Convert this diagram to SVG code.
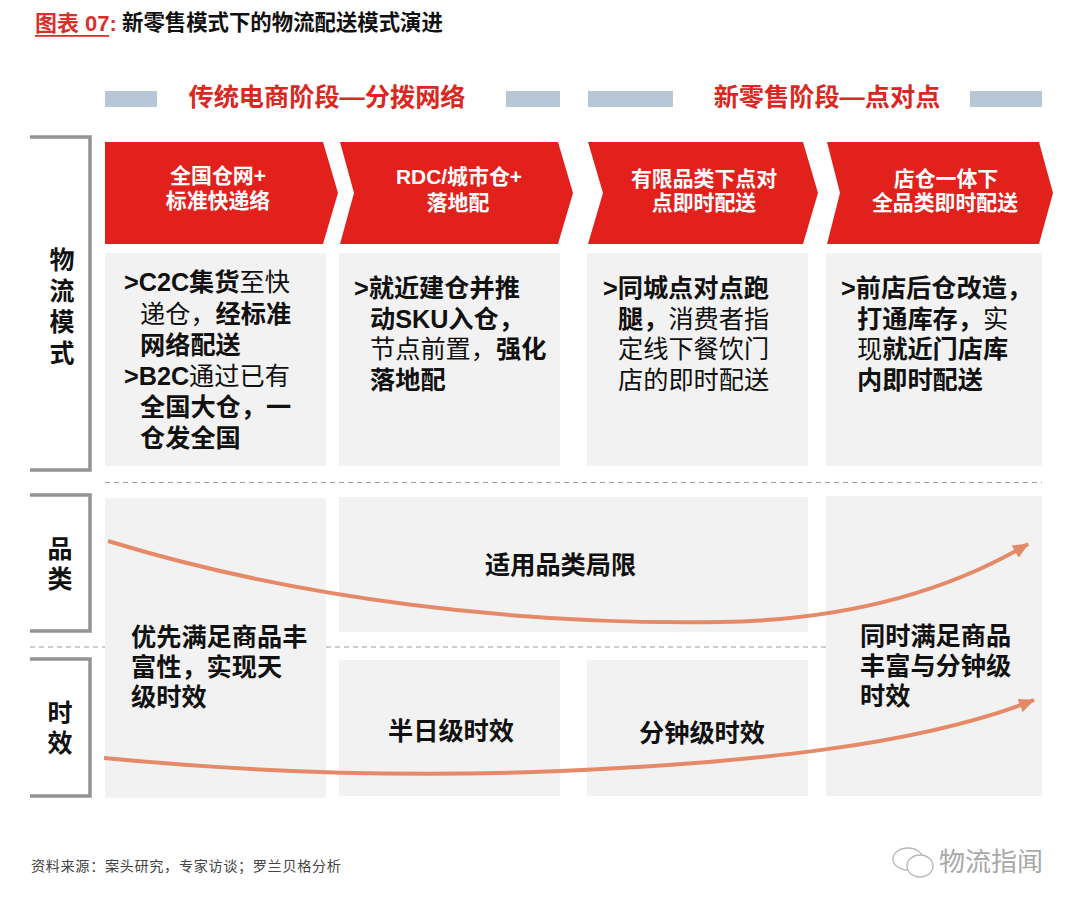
<svg xmlns="http://www.w3.org/2000/svg" width="1080" height="909" viewBox="0 0 1080 909">
<style>
text{font-family:"Liberation Sans","Noto Sans CJK SC",sans-serif;}
.panel{fill:#f3f2f2;}
.chev{fill:#e2211c;}
.bar{fill:#b8c7d8;}
.brk{fill:none;stroke:#939393;stroke-width:3.5;}
.dash{stroke:#9a9a9a;stroke-width:1;stroke-dasharray:5 4;fill:none;}
.head{fill:#d8281f;font-size:25.2px;font-weight:700;text-anchor:middle;}
.cw{fill:#fff;font-size:20.9px;font-weight:700;text-anchor:middle;}
.b{fill:#111;font-size:25.2px;}
.bb{font-weight:700;}
.lab{fill:#111;font-size:25px;font-weight:700;text-anchor:middle;}
.t{fill:#111;font-size:25.2px;font-weight:700;}
.curve{fill:none;stroke:#e58a68;stroke-width:4;}
</style>
<defs><marker id="ah" markerUnits="userSpaceOnUse" markerWidth="18" markerHeight="16" refX="15" refY="7" orient="auto"><path d="M0 0L16 7L0 14Z" fill="#e58a68"/></marker></defs>
<g id="title">
<text x="35" y="31" font-size="22" font-weight="700" fill="#d8312c">图表 07:</text>
<rect x="35" y="35" width="74" height="1.800" fill="#d8312c"/>
<text x="122" y="30" font-size="21.400" font-weight="700" fill="#111">新零售模式下的物流配送模式演进</text>
</g>
<g id="stage-1">
<rect class="bar" x="105" y="91" width="52" height="16"/><rect class="bar" x="506" y="91" width="54" height="16"/>
<text class="head" x="327" y="106">传统电商阶段—分拨网络</text>
</g>
<g id="stage-2">
<rect class="bar" x="588" y="91" width="85" height="16"/><rect class="bar" x="970" y="91" width="72" height="16"/>
<text class="head" x="827" y="106">新零售阶段—点对点</text>
</g>
<g id="axis-mode">
<path class="brk" d="M30 137H90V470H30"/>
<text class="lab" x="62" y="269">物</text><text class="lab" x="62" y="300">流</text><text class="lab" x="62" y="331">模</text><text class="lab" x="62" y="362">式</text>
</g>
<g id="axis-category">
<path class="brk" d="M30 495H90V631H30"/>
<text class="lab" x="60" y="558">品</text><text class="lab" x="60" y="588">类</text>
</g>
<g id="axis-time">
<path class="brk" d="M30 659H90V796H30"/>
<text class="lab" x="60" y="722">时</text><text class="lab" x="60" y="752">效</text>
</g>
<g id="separators">
<path class="dash" d="M105 482.500H1042"/>
<path class="dash" d="M30 647H105M326 647H826"/>
</g>
<g id="mode-1">
<polygon class="chev" points="105,142 323,142 338,193 323,244 105,244"/>
<text class="cw" x="218" y="183">全国仓网+</text><text class="cw" x="218" y="208">标准快递络</text>
<rect class="panel" x="105" y="253" width="221" height="213"/>
<text class="b" x="124" y="291"><tspan class="bb">&gt;C2C集货</tspan>至快</text>
<text class="b" x="140" y="323">递仓，<tspan class="bb">经标准</tspan></text>
<text class="b" x="140" y="354" font-weight="700">网络配送</text>
<text class="b" x="124" y="385"><tspan class="bb">&gt;B2C</tspan>通过已有</text>
<text class="b" x="140" y="416" font-weight="700">全国大仓，一</text>
<text class="b" x="140" y="447" font-weight="700">仓发全国</text>
</g>
<g id="mode-2">
<polygon class="chev" points="340,142 558,142 573,193 558,244 340,244 354,193"/>
<text class="cw" x="459" y="184">RDC/城市仓+</text><text class="cw" x="458" y="210">落地配</text>
<rect class="panel" x="339" y="253" width="221" height="213"/>
<text class="b" x="354" y="297"><tspan class="bb">&gt;就近建仓并推</tspan></text>
<text class="b" x="370" y="328" font-weight="700">动SKU入仓，</text>
<text class="b" x="370" y="358">节点前置，<tspan class="bb">强化</tspan></text>
<text class="b" x="370" y="389" font-weight="700">落地配</text>
</g>
<g id="mode-3">
<polygon class="chev" points="588,142 803,142 818,193 803,244 588,244 603,193"/>
<text class="cw" x="704" y="186">有限品类下点对</text><text class="cw" x="704" y="210">点即时配送</text>
<rect class="panel" x="587" y="253" width="221" height="213"/>
<text class="b" x="603" y="297"><tspan class="bb">&gt;同城点对点跑</tspan></text>
<text class="b" x="618" y="328"><tspan class="bb">腿，</tspan>消费者指</text>
<text class="b" x="618" y="358">定线下餐饮门</text>
<text class="b" x="618" y="389">店的即时配送</text>
</g>
<g id="mode-4">
<polygon class="chev" points="827,142 1039,142 1053,193 1039,244 827,244 840,193"/>
<text class="cw" x="946" y="186">店仓一体下</text><text class="cw" x="945" y="210">全品类即时配送</text>
<rect class="panel" x="826" y="253" width="216" height="213"/>
<text class="b" x="841" y="297"><tspan class="bb">&gt;前店后仓改造，</tspan></text>
<text class="b" x="857" y="328"><tspan class="bb">打通库存，</tspan>实</text>
<text class="b" x="857" y="358">现<tspan class="bb">就近门店库</tspan></text>
<text class="b" x="857" y="389" font-weight="700">内即时配送</text>
</g>
<g id="cell-left">
<rect class="panel" x="105" y="498" width="221" height="300"/>
<text class="t" x="131" y="646">优先满足商品丰</text><text class="t" x="131" y="676">富性，实现天</text><text class="t" x="131" y="706">级时效</text>
</g>
<g id="cell-category">
<rect class="panel" x="339" y="497" width="469" height="135"/>
<text class="t" x="485" y="574">适用品类局限</text>
</g>
<g id="cell-halfday">
<rect class="panel" x="339" y="660" width="221" height="136"/>
<text class="t" x="388" y="740">半日级时效</text>
</g>
<g id="cell-minute">
<rect class="panel" x="587" y="660" width="221" height="136"/>
<text class="t" x="639" y="742">分钟级时效</text>
</g>
<g id="cell-right">
<rect class="panel" x="826" y="496" width="216" height="300"/>
<text class="t" x="860" y="645">同时满足商品</text><text class="t" x="860" y="675">丰富与分钟级</text><text class="t" x="860" y="705">时效</text>
</g>
<g id="connectors">
<path class="curve" marker-end="url(#ah)" d="M108 541C300 600 520 625 720 622C850 620 950 590 1028 544"/>
<path class="curve" marker-end="url(#ah)" d="M104 758C250 772 400 778 560 771C750 763 920 745 1034 700"/>
</g>
<g id="footer">
<text x="31" y="871" font-size="14.200" fill="#444" letter-spacing=".6">资料来源：案头研究，专家访谈；罗兰贝格分析</text>
</g>
<g id="watermark">
<text x="939" y="871" font-size="26" fill="#a8a8a8">物流指闻</text>
<g fill="none" stroke="#b5b5b5" stroke-width="1.300"><ellipse cx="908" cy="859" rx="15" ry="11"/><ellipse cx="920" cy="866" rx="13" ry="11" fill="#fff"/></g>
</g>
</svg>
